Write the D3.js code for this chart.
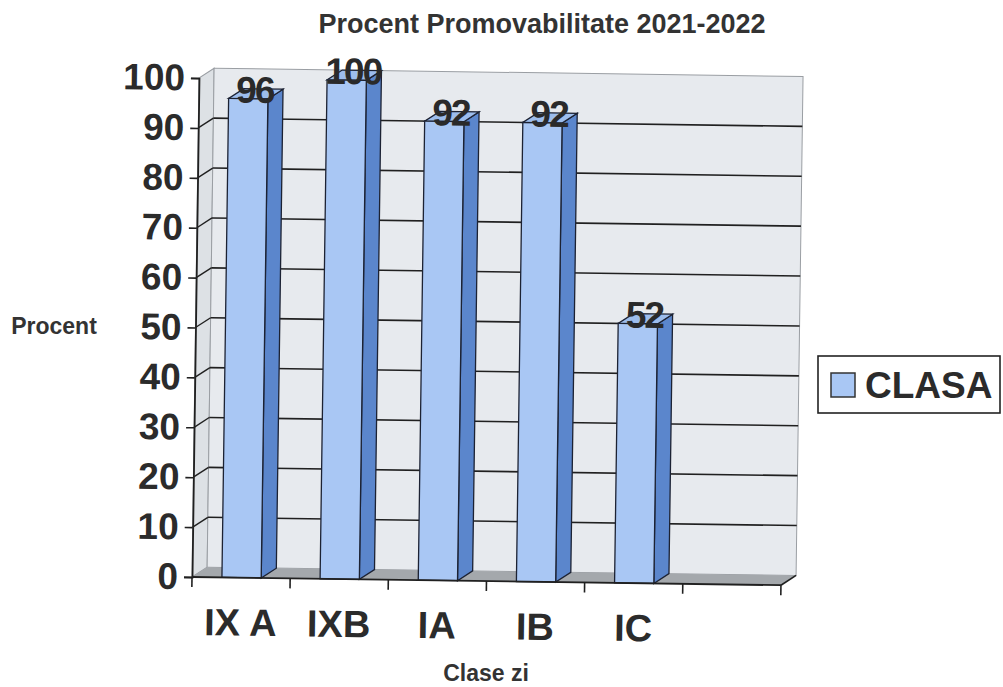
<!DOCTYPE html>
<html>
<head>
<meta charset="utf-8">
<script src="https://cdn.jsdelivr.net/npm/d3@7"></script>
<style>
  body { margin: 0; background: #fff; }
  text { font-family: "Liberation Sans", Arial, sans-serif; }
</style>
</head>
<body>
<div id="chart"></div>
<script>

// data
var categories = ["IX A", "IXB", "IA", "IB", "IC", ""];
var values = [96, 100, 92, 92, 52, null];
var seriesName = "CLASA";
var titleText = "Procent Promovabilitate 2021-2022";
var yTitle = "Procent";
var xTitle = "Clase zi";

var W = 1003, H = 687;
var depthX = 15, depthY = -10;

var svg = d3.select("#chart")
  .append("svg")
  .attr("width", W)
  .attr("height", H);

svg.append("rect").attr("width", W).attr("height", H).attr("fill", "#fff");

// scales
var x = d3.scaleBand()
  .domain(categories)
  .range([192, 781])
  .padding(0);

var y = d3.scaleLinear()
  .domain([0, 100])
  .range([577, 78]);

var x0 = x.range()[0], x1 = x.range()[1];
var bw = x.bandwidth();

// the scan is a bit tilted
var g = svg.append("g")
  .attr("transform", "rotate(0.8," + x0 + "," + y(0) + ")");

function pts(a) { return a.map(function(p) { return p.join(","); }).join(" "); }

// left wall
g.append("polygon")
  .attr("points", pts([[x0, y(0)], [x0, y(100)], [x0 + depthX, y(100) + depthY], [x0 + depthX, y(0) + depthY]]))
  .attr("fill", "#dde1e5")
  .attr("stroke", "#9a9ea3")
  .attr("stroke-width", 1);

// back wall
g.append("rect")
  .attr("x", x0 + depthX)
  .attr("y", y(100) + depthY)
  .attr("width", x1 - x0)
  .attr("height", y(0) - y(100))
  .attr("fill", "#e7eaee")
  .attr("stroke", "#9a9ea3")
  .attr("stroke-width", 1);

// gridlines
var ticks = y.ticks(10).filter(function(t) { return t > 0 && t < 100; });
g.selectAll(".grid")
  .data(ticks)
  .enter()
  .append("line")
    .attr("x1", x0 + depthX)
    .attr("x2", x1 + depthX)
    .attr("y1", function(d) { return y(d) + depthY; })
    .attr("y2", function(d) { return y(d) + depthY; })
    .attr("stroke", "#202020")
    .attr("stroke-width", 1.6);

g.selectAll(".gridside")
  .data(ticks)
  .enter()
  .append("line")
    .attr("x1", x0)
    .attr("x2", x0 + depthX)
    .attr("y1", function(d) { return y(d); })
    .attr("y2", function(d) { return y(d) + depthY; })
    .attr("stroke", "#202020")
    .attr("stroke-width", 1.4);

// floor
g.append("polygon")
  .attr("points", pts([[x0, y(0)], [x1, y(0)], [x1 + depthX, y(0) + depthY], [x0 + depthX, y(0) + depthY]]))
  .attr("fill", "#a4a8ac");
g.append("line")
  .attr("x1", x1).attr("y1", y(0))
  .attr("x2", x1 + depthX).attr("y2", y(0) + depthY)
  .attr("stroke", "#202020").attr("stroke-width", 1.6);

// bars
var bars = categories.map(function(c, i) { return {cat: c, val: values[i]}; })
  .filter(function(d) { return d.val != null; });

var bar = g.selectAll(".bar")
  .data(bars)
  .enter()
  .append("g");

function bx(d) { return x(d.cat) + bw * 0.305; }
var barW = bw * 0.4;

bar.append("polygon")
  .attr("points", function(d) {
    var l = bx(d) + barW;
    return pts([[l, y(0)], [l, y(d.val)], [l + depthX, y(d.val) + depthY], [l + depthX, y(0) + depthY]]);
  })
  .attr("fill", "#5b86cc")
  .attr("stroke", "#1c2233")
  .attr("stroke-width", 1.3);

bar.append("polygon")
  .attr("points", function(d) {
    var l = bx(d), t = y(d.val);
    return pts([[l, t], [l + barW, t], [l + barW + depthX, t + depthY], [l + depthX, t + depthY]]);
  })
  .attr("fill", "#9dbdec")
  .attr("stroke", "#1c2233")
  .attr("stroke-width", 1.3);

bar.append("rect")
  .attr("x", bx)
  .attr("y", function(d) { return y(d.val); })
  .attr("width", barW)
  .attr("height", function(d) { return y(0) - y(d.val); })
  .attr("fill", "#a9c7f4")
  .attr("stroke", "#1c2233")
  .attr("stroke-width", 1.3);

// value labels
bar.append("text")
  .attr("x", function(d) { return bx(d) + barW / 2 + depthX / 2 - 1; })
  .attr("y", function(d) { return y(d.val) + 4; })
  .attr("text-anchor", "middle")
  .attr("font-size", 37)
  .attr("font-weight", "bold")
  .attr("letter-spacing", -2)
  .attr("fill", "#2a2a2a")
  .text(function(d) { return d.val; });

// front floor edge
g.append("line")
  .attr("x1", x0).attr("x2", x1)
  .attr("y1", y(0)).attr("y2", y(0))
  .attr("stroke", "#202020").attr("stroke-width", 1.8);

// y axis
var yAxis = g.append("g")
  .attr("transform", "translate(" + x0 + ",0)")
  .call(d3.axisLeft(y).ticks(10).tickSize(8).tickPadding(6));
yAxis.select(".domain").attr("stroke", "#202020").attr("stroke-width", 1.8);
yAxis.selectAll(".tick line").attr("stroke", "#202020").attr("stroke-width", 1.6);
yAxis.selectAll(".tick text")
  .attr("font-family", "'Liberation Sans', Arial, sans-serif")
  .attr("font-size", 37)
  .attr("font-weight", "bold")
  .attr("fill", "#2b2b2b");

// x axis: ticks between categories, labels centred
var bounds = categories.map(function(c) { return x(c); }).concat([x1]);
g.selectAll(".xtick")
  .data(bounds)
  .enter()
  .append("line")
    .attr("x1", function(d) { return d; })
    .attr("x2", function(d) { return d; })
    .attr("y1", y(0))
    .attr("y2", y(0) + 10)
    .attr("stroke", "#202020")
    .attr("stroke-width", 1.6);

var xAxis = g.append("g")
  .attr("transform", "translate(0," + y(0) + ")")
  .call(d3.axisBottom(x).tickSize(0).tickPadding(31));
xAxis.select(".domain").remove();
xAxis.selectAll(".tick text")
  .attr("font-family", "'Liberation Sans', Arial, sans-serif")
  .attr("font-size", 38)
  .attr("font-weight", "bold")
  .attr("fill", "#2b2b2b");

// titles
svg.append("text")
  .attr("x", 542)
  .attr("y", 33)
  .attr("text-anchor", "middle")
  .attr("font-size", 27)
  .attr("font-weight", "bold")
  .attr("fill", "#333")
  .text(titleText);

svg.append("text")
  .attr("x", 54)
  .attr("y", 334)
  .attr("text-anchor", "middle")
  .attr("font-size", 23)
  .attr("font-weight", "bold")
  .attr("fill", "#333")
  .text(yTitle);

svg.append("text")
  .attr("x", 486)
  .attr("y", 681)
  .attr("text-anchor", "middle")
  .attr("font-size", 23)
  .attr("font-weight", "bold")
  .attr("fill", "#333")
  .text(xTitle);

// legend
var leg = svg.append("g").attr("transform", "translate(818,356)");
leg.append("rect")
  .attr("width", 182).attr("height", 57)
  .attr("fill", "#fff")
  .attr("stroke", "#222").attr("stroke-width", 1.6);
leg.append("rect")
  .attr("x", 13).attr("y", 17)
  .attr("width", 24).attr("height", 24)
  .attr("fill", "#a9c7f4")
  .attr("stroke", "#333").attr("stroke-width", 1.5);
leg.append("text")
  .attr("x", 47).attr("y", 42)
  .attr("font-size", 37)
  .attr("font-weight", "bold")
  .attr("fill", "#2b2b2b")
  .text(seriesName);

</script>
</body>
</html>
